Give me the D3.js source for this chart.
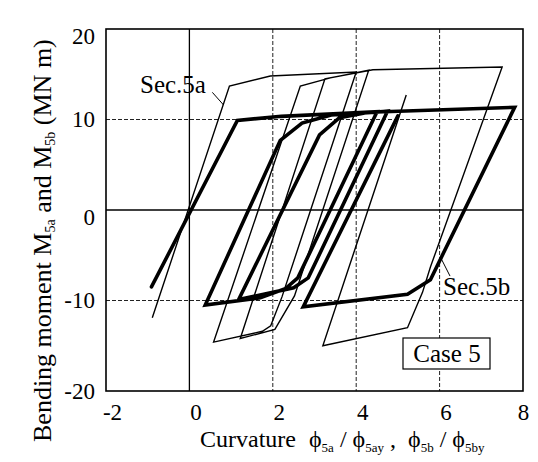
<!DOCTYPE html>
<html><head><meta charset="utf-8">
<script src="https://cdn.jsdelivr.net/npm/d3@7/dist/d3.min.js"></script>
<style>
html,body{margin:0;padding:0;background:#fff;}
svg{display:block;font-family:"Liberation Serif","Times New Roman",serif;}
</style></head><body>
<svg id="chart" width="538" height="462"></svg>
<script>
// Axis ticks and grid
const xTicks = [-2, 0, 2, 4, 6, 8];
const yTicks = [-20, -10, 0, 10, 20];
const xGrid = [2, 4, 6];
const yGrid = [-10, 10];

// Sec.5a : curvature ratio and bending moment (MN m), in loading order
const sec5aCurvature = [-0.89, 0.96, 1.94, 4.0, 2.22, 1.95, 1.75, 0.58, 2.66, 3.38, 4.3, 2.52, 2.05, 1.22, 3.25, 4.4, 7.5, 5.78, 5.59, 5.23, 3.2, 5.2];
const sec5aMoment    = [-11.9, 13.7, 14.8, 15.25, -9.6, -12.8, -13.4, -14.6, 13.7, 14.6, 15.45, -9.5, -13.2, -14.2, 14.5, 15.5, 15.8, -6.3, -9.1, -13.0, -15.0, 12.7];

// Sec.5b : curvature ratio and bending moment (MN m), in loading order
const sec5bCurvature = [-0.91, 1.15, 2.2, 4.5, 2.6, 2.3, 1.7, 0.38, 2.18, 2.7, 3.4, 4.75, 2.85, 2.5, 1.18, 3.12, 3.6, 4.3, 7.8, 5.78, 5.23, 2.73, 5.0];
const sec5bMoment    = [-8.5, 9.9, 10.35, 10.85, -7.5, -8.7, -9.7, -10.5, 7.7, 9.6, 10.5, 10.9, -7.5, -8.6, -9.9, 8.3, 10.2, 10.8, 11.35, -7.7, -9.3, -10.7, 10.4];

const svg = d3.select("#chart");
const x = d3.scaleLinear().domain([-2, 8]).range([106, 523]);
const y = d3.scaleLinear().domain([-20, 20]).range([391, 29]);

// dashed grid
svg.append("g").selectAll("line").data(xGrid).join("line")
  .attr("x1", d => x(d)).attr("x2", d => x(d))
  .attr("y1", y(20)).attr("y2", y(-20))
  .attr("stroke", "#222").attr("stroke-width", 1).attr("stroke-dasharray", "4,2");
svg.append("g").selectAll("line").data(yGrid).join("line")
  .attr("x1", x(-2)).attr("x2", x(8))
  .attr("y1", d => y(d)).attr("y2", d => y(d))
  .attr("stroke", "#222").attr("stroke-width", 1).attr("stroke-dasharray", "4,2");

// zero lines
svg.append("line").attr("x1", x(0)).attr("x2", x(0)).attr("y1", y(20)).attr("y2", y(-20))
  .attr("stroke", "#000").attr("stroke-width", 1.3);
svg.append("line").attr("x1", x(-2)).attr("x2", x(8)).attr("y1", y(0)).attr("y2", y(0))
  .attr("stroke", "#000").attr("stroke-width", 1.3);

// hysteresis curves
const line = d3.line().x(d => x(d[0])).y(d => y(d[1]));
const pts5a = sec5aCurvature.map((c, i) => [c, sec5aMoment[i]]);
const pts5b = sec5bCurvature.map((c, i) => [c, sec5bMoment[i]]);
svg.append("path").datum(pts5a).attr("d", line)
  .attr("fill", "none").attr("stroke", "#000").attr("stroke-width", 1.4)
  .attr("stroke-linejoin", "miter");
svg.append("path").datum(pts5b).attr("d", line)
  .attr("fill", "none").attr("stroke", "#000").attr("stroke-width", 3.6)
  .attr("stroke-linejoin", "miter").attr("stroke-linecap", "round");

// frame
svg.append("rect").attr("x", x(-2)).attr("y", y(20))
  .attr("width", x(8) - x(-2)).attr("height", y(-20) - y(20))
  .attr("fill", "none").attr("stroke", "#000").attr("stroke-width", 1.6);

// axes (labels only)
const minus = d => d < 0 ? "-" + Math.abs(d) : String(d);
const xAxis = svg.append("g").attr("transform", `translate(0,${y(-20)})`)
  .call(d3.axisBottom(x).tickValues(xTicks).tickSize(0).tickPadding(13));
xAxis.select(".domain").remove();
xAxis.selectAll("text").attr("font-size", 23).attr("font-family", "Liberation Serif")
  .attr("fill", "#000").attr("dx", d => d === 8 ? 0 : 6).text(minus);

const yAxis = svg.append("g").attr("transform", `translate(${x(-2)},0)`)
  .call(d3.axisLeft(y).tickValues(yTicks).tickSize(0).tickPadding(11));
yAxis.select(".domain").remove();
yAxis.selectAll("text").attr("font-size", 23).attr("font-family", "Liberation Serif")
  .attr("fill", "#000").text(minus)
  .attr("dy", d => (d === 20 || d === 0) ? "0.62em" : "0.32em");

// axis titles
const xt = svg.append("text").attr("x", 200).attr("y", 447)
  .attr("font-size", 24).attr("fill", "#000").attr("xml:space", "preserve");
xt.append("tspan").text("Curvature");
const phiParts = [["5a", " / "], ["5ay", " ,  "], ["5b", " / "], ["5by", ""]];
phiParts.forEach((p, i) => {
  xt.append("tspan").attr("dx", i === 0 ? 13 : 0).text("\u03D5");
  xt.append("tspan").attr("font-size", 13).attr("dy", 5).text(p[0]);
  xt.append("tspan").attr("dy", -5).text(p[1]);
});

const yt = svg.append("text").attr("transform", "translate(51,442) rotate(-90)")
  .attr("font-size", 26).attr("fill", "#000");
yt.append("tspan").text("Bending moment M");
yt.append("tspan").attr("font-size", 14).attr("dy", 4).text("5a");
yt.append("tspan").attr("dy", -4).text(" and M");
yt.append("tspan").attr("font-size", 14).attr("dy", 4).text("5b");
yt.append("tspan").attr("dy", -4).text(" (MN m)");

// annotations
svg.append("text").attr("x", 140).attr("y", 93).attr("font-size", 25).text("Sec.5a");
svg.append("line").attr("x1", x(0.55)).attr("y1", y(13.0)).attr("x2", x(0.82)).attr("y2", y(11.6))
  .attr("stroke", "#000").attr("stroke-width", 1);
svg.append("text").attr("x", 443).attr("y", 295).attr("font-size", 25).text("Sec.5b");
svg.append("line").attr("x1", x(6.25)).attr("y1", y(-7.3)).attr("x2", x(6.03)).attr("y2", y(-5.3))
  .attr("stroke", "#000").attr("stroke-width", 1);

svg.append("rect").attr("x", 403).attr("y", 338).attr("width", 87).attr("height", 31)
  .attr("fill", "#fff").attr("stroke", "#000").attr("stroke-width", 1.2);
svg.append("text").attr("x", 447).attr("y", 362).attr("text-anchor", "middle")
  .attr("font-size", 25).text("Case 5");
</script>
</body></html>
